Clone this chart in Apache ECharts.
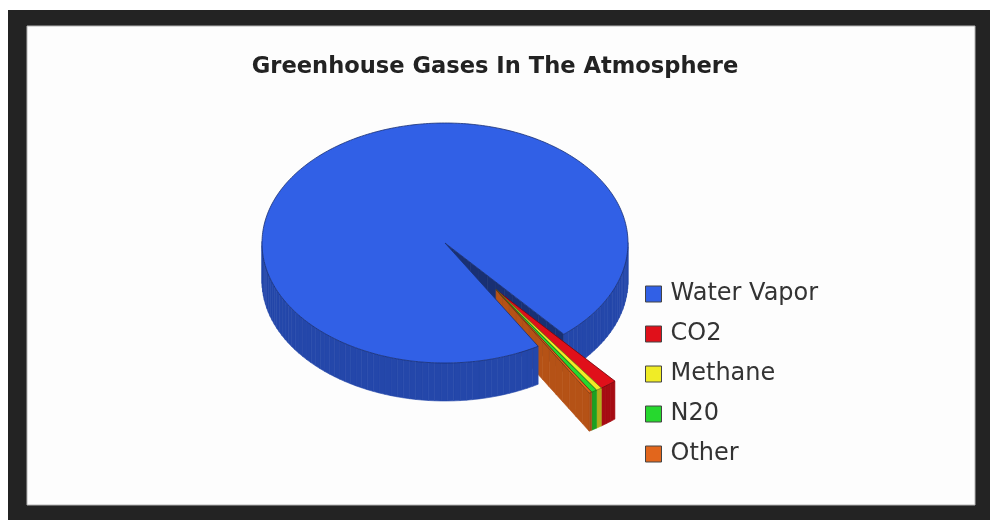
<!DOCTYPE html>
<html>
<head>
<meta charset="utf-8">
<title>Greenhouse Gases In The Atmosphere</title>
<script src="https://cdn.jsdelivr.net/npm/echarts@6/dist/echarts.min.js"></script>
<style>
  html, body { margin: 0; padding: 0; background: #fff; }
  #chart { width: 990px; height: 520px; }
</style>
</head>
<body>
<div id="chart"></div>
<script>
var gases = ['Water Vapor', 'CO2', 'Methane', 'N20', 'Other'];
var shares = [97.25, 1.5, 0.5, 0.5, 0.25];
var pulled = [false, true, true, true, true];

var palette = ['#3160e6', '#e0101a', '#f0ec26', '#26d82e', '#e2661c'];

// fake 3d pie: ellipse top, side walls, exploded slices
var CX = 445, CY = 243, RX = 183, RY = 120, DEPTH = 38;
var START = 59.4;            // where the first slice starts, clockwise from 3 o'clock
var PULL = 0.48;

function shade(hex, k) {
    var n = parseInt(hex.slice(1), 16);
    var r = Math.round(((n >> 16) & 255) * k);
    var g = Math.round(((n >> 8) & 255) * k);
    var b = Math.round((n & 255) * k);
    return 'rgb(' + r + ',' + g + ',' + b + ')';
}

var total = shares.reduce(function (s, v) { return s + v; }, 0);
var slices = [];
var acc = START;
shares.forEach(function (v, i) {
    slices.push({ a0: acc, a1: acc + v / total * 360 });
    acc += v / total * 360;
});

// the pulled slices move out together, along the middle of their group
var pa0 = null, pa1 = null;
slices.forEach(function (s, i) {
    if (pulled[i]) {
        if (pa0 === null) pa0 = s.a0;
        pa1 = s.a1;
    }
});
var pullDir = (pa0 + pa1) / 2 * Math.PI / 180;
slices.forEach(function (s, i) {
    s.ox = pulled[i] ? PULL * Math.cos(pullDir) : 0;
    s.oy = pulled[i] ? PULL * Math.sin(pullDir) : 0;
});

function pt(s, deg, r, h) {
    var t = deg * Math.PI / 180;
    return [CX + RX * (r * Math.cos(t) + s.ox), CY + RY * (r * Math.sin(t) + s.oy) + h];
}

function depthZ(gy) {
    return Math.round((gy + 3) * 1000);
}

function renderSlice(idx) {
    return function (params, api) {
        var s = slices[idx];
        var top = palette[idx];
        var side = shade(top, 0.74);
        var face = shade(top, 0.8);
        var children = [];
        var n = gases.length;

        // outer wall, cut in small pieces so painter's order works
        var steps = Math.max(1, Math.ceil((s.a1 - s.a0) / 2));
        for (var k = 0; k < steps; k++) {
            var t0 = s.a0 + (s.a1 - s.a0) * k / steps;
            var t1 = s.a0 + (s.a1 - s.a0) * (k + 1) / steps;
            var tm = (t0 + t1) / 2 * Math.PI / 180;
            if (Math.sin(tm) <= 0) continue;
            children.push({
                type: 'polygon',
                z2: depthZ(Math.sin(tm) + s.oy),
                shape: { points: [pt(s, t0, 1, 0), pt(s, t1, 1, 0), pt(s, t1, 1, DEPTH), pt(s, t0, 1, DEPTH)] },
                style: { fill: side, stroke: side, lineWidth: 0.6 }
            });
        }

        // cut faces, only where the neighbour is not attached
        var prev = (idx + n - 1) % n, next = (idx + 1) % n;
        var faces = [];
        if (pulled[prev] !== pulled[idx] && Math.cos(s.a0 * Math.PI / 180) < 0) faces.push(s.a0);
        if (pulled[next] !== pulled[idx] && Math.cos(s.a1 * Math.PI / 180) > 0) faces.push(s.a1);
        faces.forEach(function (a) {
            var sa = Math.sin(a * Math.PI / 180);
            var fc = pulled[idx] ? face : shade(top, 0.5);
            for (var j = 0; j < 14; j++) {
                var r0 = j / 14, r1 = (j + 1) / 14;
                children.push({
                    type: 'polygon',
                    z2: depthZ((r0 + r1) / 2 * sa + s.oy),
                    shape: { points: [pt(s, a, r0, 0), pt(s, a, r1, 0), pt(s, a, r1, DEPTH), pt(s, a, r0, DEPTH)] },
                    style: { fill: fc, stroke: fc, lineWidth: 0.6 }
                });
            }
        });

        // top
        var pts = [pt(s, 0, 0, 0)];
        var tsteps = Math.max(1, Math.ceil(s.a1 - s.a0));
        for (var m = 0; m <= tsteps; m++) {
            pts.push(pt(s, s.a0 + (s.a1 - s.a0) * m / tsteps, 1, 0));
        }
        children.push({
            type: 'polygon',
            z2: 20000,
            shape: { points: pts },
            style: { fill: top, stroke: shade(top, 0.5), lineWidth: 0.8 }
        });

        return { type: 'group', children: children };
    };
}

var chart = echarts.init(document.getElementById('chart'));

var option = {
    animation: false,
    backgroundColor: '#ffffff',
    graphic: [
        { type: 'rect', silent: true, z2: 0, shape: { x: 8, y: 10, width: 982, height: 510 }, style: { fill: '#232323' } },
        { type: 'rect', silent: true, z2: 1, shape: { x: 27, y: 26, width: 948, height: 479 }, style: { fill: '#fdfdfd', stroke: '#b4b4b4', lineWidth: 1 } }
    ],
    title: {
        text: 'Greenhouse Gases In The Atmosphere',
        left: 'center',
        top: 51,
        textStyle: { fontFamily: 'DejaVu Sans', fontWeight: 'bold', fontSize: 22.6, color: '#222' }
    },
    legend: {
        orient: 'vertical',
        left: 640,
        top: 277,
        icon: 'rect',
        itemWidth: 16,
        itemHeight: 16,
        itemGap: 16,
        selectedMode: false,
        data: gases,
        itemStyle: { borderColor: '#444', borderWidth: 1 },
        textStyle: { fontFamily: 'DejaVu Sans', fontSize: 24, lineHeight: 24, color: '#333', padding: [0, 0, 0, 4] }
    },
    series: gases.map(function (name, i) {
        return {
            type: 'custom',
            name: name,
            coordinateSystem: 'none',
            silent: true,
            itemStyle: { color: palette[i] },
            data: [shares[i]],
            renderItem: renderSlice(i)
        };
    })
};

chart.setOption(option);
</script>
</body>
</html>
